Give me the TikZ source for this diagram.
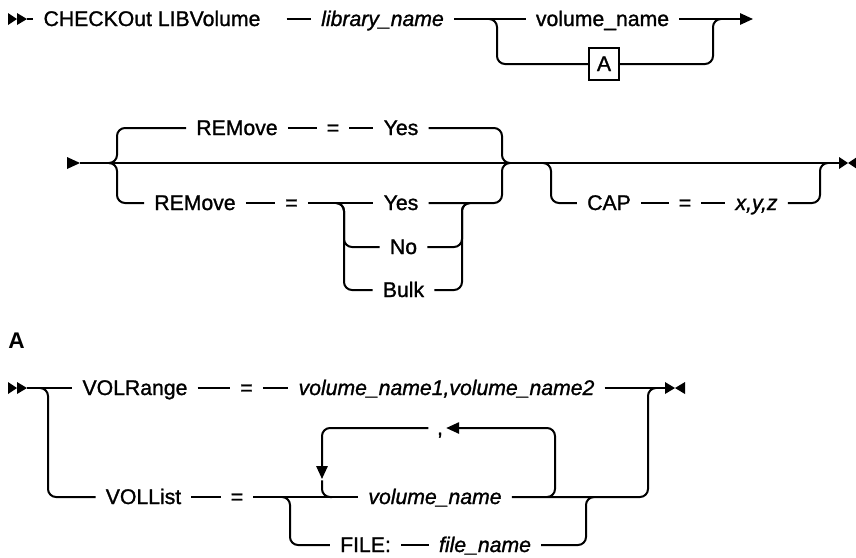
\documentclass[tikz,border=0pt]{standalone}
\usepackage{fontspec}
\setmainfont{Liberation Sans}
\newfontfamily\railfont{Liberation Sans}[FakeBold=1.2]
\usetikzlibrary{arrows.meta}
\begin{document}
\begin{tikzpicture}[x=0.75pt,y=-0.75pt,
  every node/.style={font=\railfont\fontsize{15.9pt}{18pt}\selectfont, text height=11.25pt, text depth=0.75pt, inner xsep=7.5pt, inner ysep=0pt},
  var/.style={font=\railfont\fontsize{15.9pt}{18pt}\selectfont\itshape},
  boxnode/.style={draw, line width=1.1pt, minimum width=22.5pt, minimum height=24pt, inner sep=0pt},
  rail/.style={line width=1.5pt, rounded corners=6pt},
  tip/.style={-{Triangle[length=9.75pt,width=8.5pt]}},
  marker/.style={fill=black}
]
\useasboundingbox (0,0) rectangle (856,557);

% ---------- Row 1 ----------
\fill[marker] (8,13) -- (17,19) -- (8,25) -- cycle;
\fill[marker] (17,13) -- (27,19) -- (17,25) -- cycle;
\coordinate (s1) at (27,19);
\node (cmd) at (152,19) {CHECKOut LIBVolume};
\node[var] (lib) at (382.5,19) {library\_name};
\node (vol) at (602.5,19) {volume\_name};
\node[boxnode] (boxA) at (604,64) {A};
\coordinate (e1) at (753,19);
\coordinate (b1a) at (489,19);
\coordinate (b1b) at (497,19);
\coordinate (b1c) at (497,64);
\coordinate (b1d) at (713,64);
\coordinate (b1e) at (713,19);
\coordinate (b1f) at (721,19);
\draw[rail] (s1) -- (cmd.west);
\draw[rail] ([xshift=12pt]cmd.east) -- (lib.west);
\draw[rail] (lib.east) -- (vol.west);
\draw[rail,tip] (vol.east) -- (e1);
\draw[rail] (b1a) -- (b1b) -- (b1c) -- (boxA.west);
\draw[rail] (boxA.east) -- (b1d) -- (b1e) -- (b1f);

% ---------- Row 2 ----------
\fill[marker] (67,157) -- (80,163) -- (67,169) -- cycle;
\fill[marker] (839,157) -- (848,163) -- (839,169) -- cycle;
\fill[marker] (857,157) -- (848,163) -- (857,169) -- cycle;
\coordinate (m2s) at (80,163);
\coordinate (m2e) at (840,163);
\draw[rail] (m2s) -- (m2e);

\node (rem1) at (237,128) {REMove};
\node (eq1) at (333,128) {=};
\node (yes1) at (401,128) {Yes};
\node (rem2) at (195,203) {REMove};
\node (eq2) at (291.5,203) {=};
\node (yes2) at (401,203) {Yes};
\node (no) at (403.5,247) {No};
\node (bulk) at (403.5,290) {Bulk};
\node (cap) at (609,203) {CAP};
\node (eq3) at (685,203) {=};
\node[var] (xyz) at (756.5,203) {x,y,z};

\coordinate (b2a) at (110,163);
\coordinate (b2b) at (117,163);
\coordinate (b2c) at (117,128);
\coordinate (b2g) at (117,203);
\coordinate (b2d) at (502,128);
\coordinate (b2e) at (502,163);
\coordinate (b2f) at (510,163);
\coordinate (b2h) at (502,203);
\draw[rail] (b2a) -- (b2b) -- (b2c) -- (rem1.west);
\draw[rail] (rem1.east) -- (eq1.west);
\draw[rail] (eq1.east) -- (yes1.west);
\draw[rail] (yes1.east) -- (b2d) -- (b2e) -- (b2f);
\draw[rail] (b2a) -- (b2b) -- (b2g) -- (rem2.west);
\draw[rail] (rem2.east) -- (eq2.west);
\draw[rail] (eq2.east) -- (yes2.west);
\draw[rail] (yes2.east) -- (b2h) -- (b2e) -- (b2f);

\coordinate (b3a) at (336,203);
\coordinate (b3b) at (344,203);
\coordinate (b3c) at (344,247);
\coordinate (b3d) at (344,290);
\coordinate (b3e) at (462,247);
\coordinate (b3f) at (462,203);
\coordinate (b3g) at (470,203);
\coordinate (b3h) at (462,290);
\draw[rail] (b3a) -- (b3b) -- (b3c) -- (no.west);
\draw[rail] (b3a) -- (b3b) -- (b3d) -- (bulk.west);
\draw[rail] (no.east) -- (b3e) -- (b3f) -- (b3g);
\draw[rail] (bulk.east) -- (b3h) -- (b3f) -- (b3g);

\coordinate (b4a) at (543,163);
\coordinate (b4b) at (551,163);
\coordinate (b4c) at (551,203);
\coordinate (b4d) at (820,203);
\coordinate (b4e) at (820,163);
\coordinate (b4f) at (828,163);
\draw[rail] (b4a) -- (b4b) -- (b4c) -- (cap.west);
\draw[rail] (cap.east) -- (eq3.west);
\draw[rail] (eq3.east) -- (xyz.west);
\draw[rail] (xyz.east) -- (b4d) -- (b4e) -- (b4f);

% ---------- Fragment A ----------
\node[anchor=base west, font=\fontsize{17pt}{18pt}\selectfont\bfseries, inner sep=0pt] (hA) at (8,348) {A};

\fill[marker] (8,382) -- (17,388) -- (8,394) -- cycle;
\fill[marker] (17,382) -- (27,388) -- (17,394) -- cycle;
\fill[marker] (665,382) -- (675,388) -- (665,394) -- cycle;
\fill[marker] (685,382) -- (675,388) -- (685,394) -- cycle;
\coordinate (sA) at (27,388);
\coordinate (eA) at (665,388);

\node (vr) at (135,388) {VOLRange};
\node (eq4) at (246.5,388) {=};
\node[var] (vn12) at (446.5,388) {volume\_name1,volume\_name2};
\node (vl) at (143.5,497) {VOLList};
\node (eq5) at (237,497) {=};
\node[var] (vn) at (435,497) {volume\_name};
\node (file) at (365.5,545) {FILE:};
\node[var] (fn) at (485,545) {file\_name};
\node[inner xsep=2.25pt] (comma) at (440,428) {,};

\draw[rail] (sA) -- (vr.west);
\draw[rail] (vr.east) -- (eq4.west);
\draw[rail] (eq4.east) -- (vn12.west);
\draw[rail] (vn12.east) -- (eA);

\coordinate (bAa) at (40,388);
\coordinate (bAb) at (48,388);
\coordinate (bAc) at (48,497);
\coordinate (bAd) at (648,497);
\coordinate (bAe) at (648,388);
\coordinate (bAf) at (656,388);
\draw[rail] (bAa) -- (bAb) -- (bAc) -- (vl.west);
\draw[rail] (vl.east) -- (eq5.west);
\draw[rail] (eq5.east) -- (vn.west);
\draw[rail] (vn.east) -- (bAd) -- (bAe) -- (bAf);

\coordinate (bAg) at (282,497);
\coordinate (bAh) at (290,497);
\coordinate (bAi) at (290,545);
\coordinate (bAj) at (586,545);
\coordinate (bAk) at (586,497);
\coordinate (bAl) at (594,497);
\draw[rail] (bAg) -- (bAh) -- (bAi) -- (file.west);
\draw[rail] (file.east) -- (fn.west);
\draw[rail] (fn.east) -- (bAj) -- (bAk) -- (bAl);

\coordinate (bAm) at (547,497);
\coordinate (bAn) at (555,497);
\coordinate (bAo) at (555,428);
\coordinate (bAp) at (322,428);
\coordinate (bAq) at (322,479);
\coordinate (bAr) at (322,497);
\coordinate (bAs) at (332,497);
\draw[rail,tip] (bAm) -- (bAn) -- (bAo) -- (comma.east);
\draw[rail,tip] ([xshift=-4pt]comma.west) -- (bAp) -- (bAq);
\draw[rail] ([yshift=-1pt]bAq) -- (bAr) -- (bAs);
\end{tikzpicture}
\end{document}
